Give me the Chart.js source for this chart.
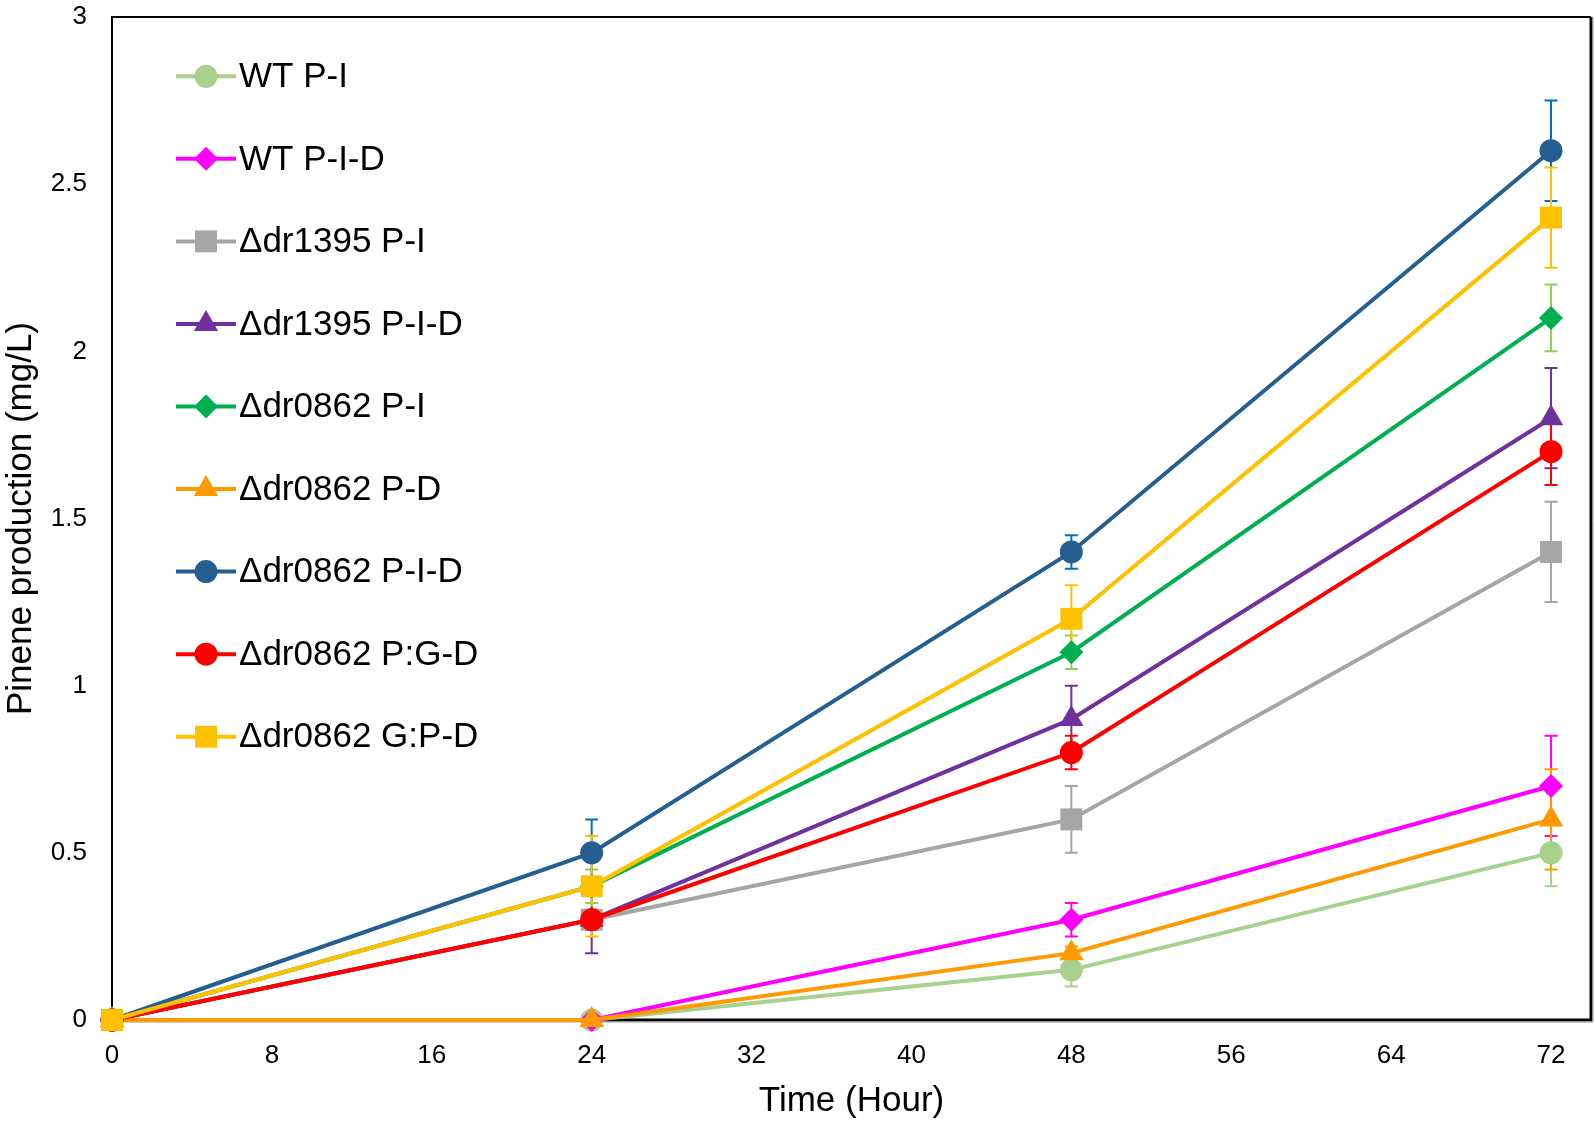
<!DOCTYPE html>
<html><head><meta charset="utf-8">
<script src="https://cdn.jsdelivr.net/npm/chart.js@4/dist/chart.umd.min.js"></script>
<style>html,body{margin:0;padding:0;background:#fff}#c{display:block}</style>
</head><body>
<canvas id="c" width="1594" height="1124"></canvas>
<script>
// ---- data ----
const hours = [0, 24, 48, 72];
const xTickValues = [0, 8, 16, 24, 32, 40, 48, 56, 64, 72];
const yTickValues = [0, 0.5, 1, 1.5, 2, 2.5, 3];
const seriesNames = ['WT P-I', 'WT P-I-D', 'Δdr1395 P-I', 'Δdr1395 P-I-D', 'Δdr0862 P-I', 'Δdr0862 P-D', 'Δdr0862 P-I-D', 'Δdr0862 P:G-D', 'Δdr0862 G:P-D'];

const wtPI        = [0, 0, 0.15, 0.5];
const wtPID       = [0, 0, 0.3, 0.7];
const dr1395PI    = [0, 0.3, 0.6, 1.4];
const dr1395PID   = [0, 0.3, 0.9, 1.8];
const dr0862PI    = [0, 0.4, 1.1, 2.1];
const dr0862PD    = [0, 0, 0.2, 0.6];
const dr0862PID   = [0, 0.5, 1.4, 2.6];
const dr0862PGD   = [0, 0.3, 0.8, 1.7];
const dr0862GPD   = [0, 0.4, 1.2, 2.4];

const wtPIErr      = [0, 0, 0.05, 0.1];
const wtPIDErr     = [0, 0, 0.05, 0.15];
const dr1395PIErr  = [0, 0.02, 0.1, 0.15];
const dr1395PIDErr = [0, 0.1, 0.1, 0.15];
const dr0862PIErr  = [0, 0.05, 0.05, 0.1];
const dr0862PDErr  = [0, 0, 0.02, 0.15];
const dr0862PIDErr = [0, 0.1, 0.05, 0.15];
const dr0862PGDErr = [0, 0.03, 0.05, 0.1];
const dr0862GPDErr = [0, 0.15, 0.1, 0.15];

// ---- styles ----
const seriesValues = [wtPI, wtPID, dr1395PI, dr1395PID, dr0862PI, dr0862PD, dr0862PID, dr0862PGD, dr0862GPD];
const seriesErrors = [wtPIErr, wtPIDErr, dr1395PIErr, dr1395PIDErr, dr0862PIErr, dr0862PDErr, dr0862PIDErr, dr0862PGDErr, dr0862GPDErr];
const colors    = ['#A9D18E', '#FF00FF', '#A5A5A5', '#7030A0', '#00B050', '#FF9900', '#255E91', '#FF0000', '#FFC000'];
const errColors = ['#A9D18E', '#FF00FF', '#A5A5A5', '#7030A0', '#92D050', '#FF9900', '#0070C0', '#FF0000', '#FFC000'];
const styles    = ['circle', 'rectRot', 'rect', 'triangle', 'rectRot', 'triangle', 'circle', 'circle', 'rect'];
const radii = { circle: 11.5, rectRot: 12, rect: 15.5, triangle: 14 };

const FONT = "'Liberation Sans', Arial, sans-serif";
Chart.defaults.font.family = FONT;
Chart.defaults.color = '#000';

const datasets = seriesNames.map((name, i) => ({
  label: name,
  data: hours.map((h, j) => ({ x: h, y: seriesValues[i][j] })),
  borderColor: colors[i],
  backgroundColor: colors[i],
  pointBackgroundColor: colors[i],
  pointBorderColor: colors[i],
  pointBorderWidth: 0,
  borderWidth: 4,
  pointStyle: styles[i],
  pointRadius: radii[styles[i]],
  pointHoverRadius: radii[styles[i]],
  tension: 0,
  clip: false,
  order: -i
}));

const errorBarPlugin = {
  id: 'errorBars',
  beforeDatasetsDraw(chart) {
    const ctx = chart.ctx, xs = chart.scales.x, ys = chart.scales.y;
    ctx.save();
    ctx.lineWidth = 2;
    seriesValues.forEach((vals, i) => {
      ctx.strokeStyle = errColors[i];
      vals.forEach((v, j) => {
        const e = seriesErrors[i][j];
        if (!e) return;
        const x = xs.getPixelForValue(hours[j]);
        const yt = ys.getPixelForValue(v + e), yb = ys.getPixelForValue(v - e);
        ctx.beginPath();
        ctx.moveTo(x, yt); ctx.lineTo(x, yb);
        ctx.moveTo(x - 6.5, yt); ctx.lineTo(x + 6.5, yt);
        ctx.moveTo(x - 6.5, yb); ctx.lineTo(x + 6.5, yb);
        ctx.stroke();
      });
    });
    ctx.restore();
  }
};

const framePlugin = {
  id: 'frame',
  beforeDatasetsDraw(chart) {
    const { ctx, chartArea: a } = chart;
    ctx.save();
    ctx.strokeStyle = '#000';
    ctx.lineWidth = 2;
    ctx.beginPath();
    ctx.moveTo(a.left, a.bottom); ctx.lineTo(a.left, a.top); ctx.lineTo(a.right, a.top);
    ctx.stroke();
    ctx.lineWidth = 3;
    ctx.beginPath();
    ctx.moveTo(a.right, a.top); ctx.lineTo(a.right, a.bottom); ctx.lineTo(a.left, a.bottom);
    ctx.stroke();
    ctx.strokeStyle = '#9a9a9a';
    ctx.lineWidth = 1;
    ctx.beginPath();
    ctx.moveTo(a.right + 2, a.top + 2); ctx.lineTo(a.right + 2, a.bottom + 2); ctx.lineTo(a.left + 2, a.bottom + 2);
    ctx.stroke();
    ctx.restore();
  }
};

function drawMarker(ctx, style, r, x, y, color) {
  if (Chart.helpers && Chart.helpers.drawPoint) {
    ctx.fillStyle = color; ctx.strokeStyle = color; ctx.lineWidth = 0.01;
    Chart.helpers.drawPoint(ctx, { pointStyle: style, radius: r, rotation: 0, borderWidth: 0 }, x, y);
    return;
  }
  ctx.fillStyle = color;
  ctx.beginPath();
  if (style === 'circle') ctx.arc(x, y, r, 0, Math.PI * 2);
  else if (style === 'rect') { const s = r * Math.SQRT1_2; ctx.rect(x - s, y - s, 2 * s, 2 * s); }
  else if (style === 'rectRot') { ctx.moveTo(x - r, y); ctx.lineTo(x, y - r); ctx.lineTo(x + r, y); ctx.lineTo(x, y + r); ctx.closePath(); }
  else if (style === 'triangle') { ctx.moveTo(x, y - r); ctx.lineTo(x + r * 0.866, y + r / 2); ctx.lineTo(x - r * 0.866, y + r / 2); ctx.closePath(); }
  ctx.fill();
}

const legendPlugin = {
  id: 'customLegend',
  afterDraw(chart) {
    const ctx = chart.ctx;
    ctx.save();
    seriesNames.forEach((name, i) => {
      const y = 76.3 + i * 82.55;
      ctx.strokeStyle = colors[i];
      ctx.lineWidth = 4;
      ctx.beginPath(); ctx.moveTo(176, y); ctx.lineTo(236, y); ctx.stroke();
      drawMarker(ctx, styles[i], radii[styles[i]], 206, y, colors[i]);
      ctx.fillStyle = '#000';
      ctx.font = '35px ' + FONT;
      ctx.textBaseline = 'middle';
      ctx.textAlign = 'left';
      ctx.fillText(name, 239, y + 1);
    });
    ctx.restore();
  }
};

function zeroPad(s) { s.paddingTop = 0; s.paddingBottom = 0; s.paddingLeft = 0; s.paddingRight = 0; }

new Chart(document.getElementById('c'), {
  type: 'line',
  data: { datasets },
  plugins: [framePlugin, errorBarPlugin, legendPlugin],
  options: {
    responsive: false,
    animation: false,
    events: [],
    layout: { autoPadding: false, padding: { left: 0, top: 17, right: 3, bottom: 0 } },
    plugins: { legend: { display: false }, tooltip: { enabled: false } },
    scales: {
      x: {
        type: 'linear', min: 0, max: 74,
        grid: { display: false, drawTicks: false },
        border: { display: false },
        afterBuildTicks: s => { s.ticks = xTickValues.map(v => ({ value: v })); },
        afterFit: s => { s.height = 104; zeroPad(s); },
        ticks: { font: { size: 26 }, padding: 20, maxRotation: 0, autoSkip: false, callback: v => String(v) },
        title: { display: true, text: 'Time (Hour)', font: { size: 35 }, padding: { top: 0, bottom: 2 } }
      },
      y: {
        type: 'linear', min: 0, max: 3,
        grid: { display: false, drawTicks: false },
        border: { display: false },
        afterBuildTicks: s => { s.ticks = yTickValues.map(v => ({ value: v })); },
        afterFit: s => { s.width = 112; zeroPad(s); },
        ticks: { font: { size: 26 }, padding: 25, autoSkip: false, callback: v => String(+Number(v).toFixed(1)) },
        title: { display: true, text: 'Pinene production (mg/L)', font: { size: 35 }, padding: { top: 0, bottom: 0 } }
      }
    }
  }
});
</script>
</body></html>
